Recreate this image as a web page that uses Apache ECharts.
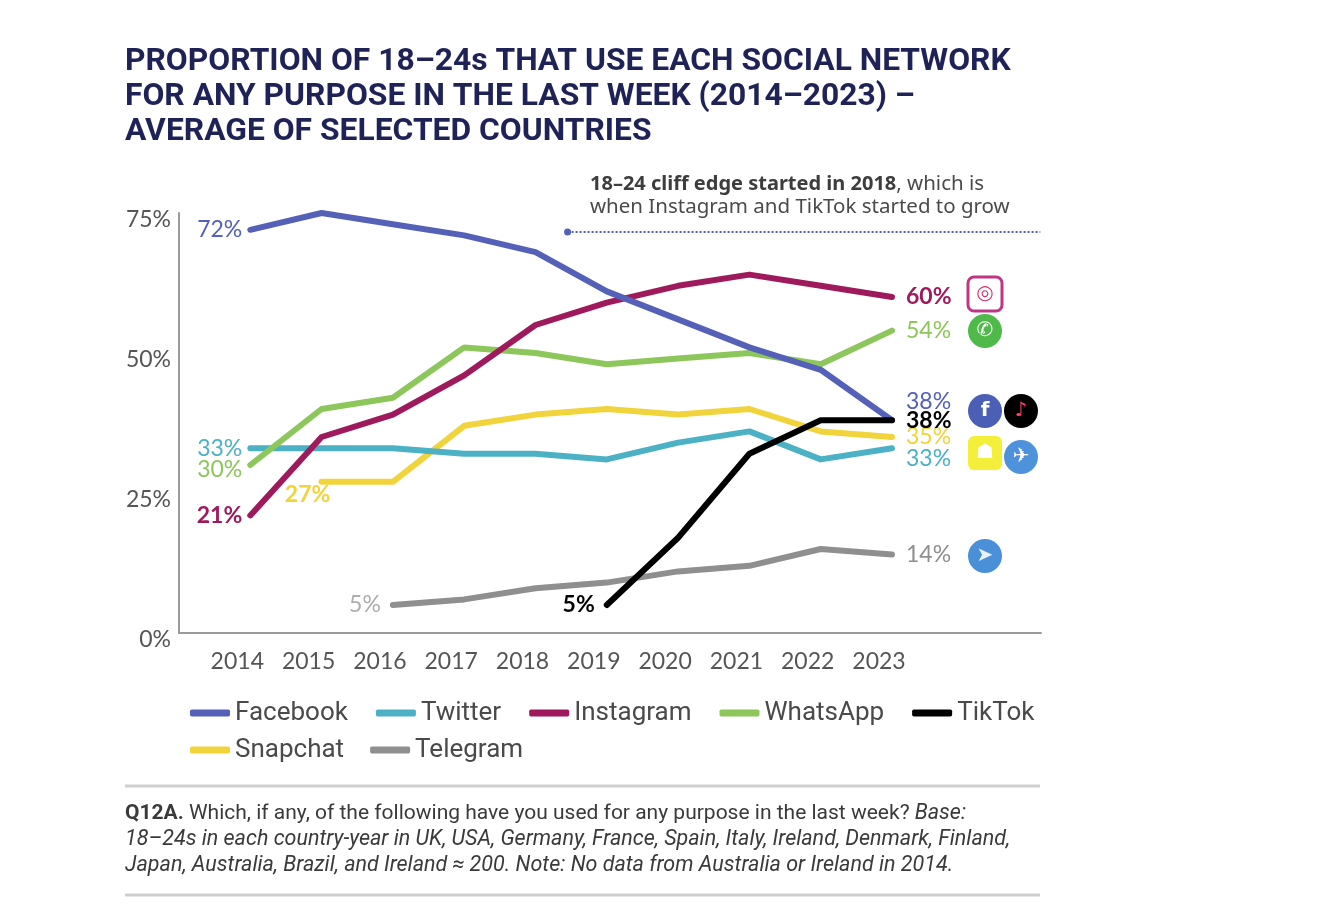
<!DOCTYPE html>
<html>
<head>
<meta charset="utf-8">
<script src="https://cdn.jsdelivr.net/npm/echarts@6/dist/echarts.min.js"></script>
<style>
  html, body { margin: 0; padding: 0; background: #fff; }
  #chart { width: 1327px; height: 920px; }
</style>
</head>
<body>
<div id="chart"></div>
<script>
// data
const years = [2014, 2015, 2016, 2017, 2018, 2019, 2020, 2021, 2022, 2023];
const facebook  = [72, 75, 73, 71, 68, 61, 56, 51, 47, 38];
const twitter   = [33, 33, 33, 32, 32, 31, 34, 36, 31, 33];
const instagram = [21, 35, 39, 46, 55, 59, 62, 64, 62, 60];
const whatsapp  = [30, 40, 42, 51, 50, 48, 49, 50, 48, 54];
const tiktok    = [null, null, null, null, null, 5, 17, 32, 38, 38];
const snapchat  = [null, 27, 27, 37, 39, 40, 39, 40, 36, 35];
const telegram  = [null, null, 5, 6, 8, 9, 11, 12, 15, 14];
const yTicks = [0, 25, 50, 75];

const colors = {
  Facebook: '#5560b8', Twitter: '#4cb1c4', Instagram: '#9e1a5c', WhatsApp: '#8dc65a',
  TikTok: '#000000', Snapchat: '#f1d33c', Telegram: '#8f8f8f'
};
const LBL_FONT = 'Lato';
const NARROW = 'Roboto, "Noto Sans", sans-serif';

// label for one point; rich padding nudges the text off the point
function pointLabel(val, color, opt) {
  return {
    show: true,
    position: opt.position || 'left',
    distance: opt.distance == null ? 8 : opt.distance,
    formatter: '{a|' + val + '%}',
    rich: {
      a: {
        fontFamily: LBL_FONT, fontSize: 23,
        fontWeight: opt.bold ? 'bold' : 'normal',
        color: opt.color || color,
        padding: opt.padding || [0, 0, 0, 0]
      }
    }
  };
}

// pair years with values, attach a label to first / last point
function mkData(vals, color, startLbl, endLbl) {
  const idx = vals.map((v, i) => v == null ? -1 : i).filter(i => i >= 0);
  const first = idx[0], last = idx[idx.length - 1];
  return years.map((y, i) => {
    if (vals[i] == null) return [y, null];
    const item = { value: [y, vals[i]] };
    if (i === first && startLbl) item.label = pointLabel(vals[i], color, startLbl);
    if (i === last && endLbl) item.label = pointLabel(vals[i], color, Object.assign({ position: 'right', distance: 14 }, endLbl));
    return item;
  });
}

function line(name, vals, startLbl, endLbl, z) {
  return {
    name: name,
    type: 'line',
    z: z,
    data: mkData(vals, colors[name], startLbl, endLbl),
    showSymbol: true,
    symbol: 'circle',
    symbolSize: 0,
    connectNulls: false,
    label: { show: false },
    lineStyle: { color: colors[name], width: 6, cap: 'round', join: 'round' },
    itemStyle: { color: colors[name] },
    emphasis: { disabled: true },
    labelLayout: { hideOverlap: false }
  };
}

const series = [
  line('Telegram', telegram, { distance: 12, color: '#adadad' }, {}, 2),
  line('Snapchat', snapchat, { position: 'bottom', distance: 1, bold: true, padding: [0, 28, 0, 0] }, {}, 3),
  line('Twitter', twitter, {}, { padding: [20, 0, 0, 0] }, 4),
  line('WhatsApp', whatsapp, { padding: [10, 0, 0, 0] }, {}, 5),
  line('Instagram', instagram, { bold: true }, { bold: true }, 6),
  line('Facebook', facebook, {}, { padding: [0, 0, 38, 0] }, 7),
  line('TikTok', tiktok, { distance: 12, bold: true }, { bold: true }, 8)
];

// dotted annotation line at the top (2018 onwards)
series[5].markLine = {
  silent: true,
  symbol: ['circle', 'none'],
  symbolSize: 7,
  label: { show: false },
  lineStyle: { color: '#5560b8', type: 'dotted', width: 2 },
  data: [[{ coord: [2018.45, 71.6] }, { coord: [2025.08, 71.6] }]]
};

const legendText = { fontFamily: NARROW, fontSize: 26, color: '#4a4a4a' };

function icon(cx, cy, shape, fill, ch, chColor) {
  const el = shape === 'circle'
    ? { type: 'circle', shape: { cx: cx, cy: cy, r: 17 }, style: { fill: fill } }
    : { type: 'rect', shape: { x: cx - 17, y: cy - 17, width: 34, height: 34, r: 6 }, style: fill };
  return [el, {
    type: 'text', x: cx, y: cy,
    style: { text: ch, fill: chColor, font: 'bold 20px DejaVu Sans', align: 'center', verticalAlign: 'middle' }
  }];
}

const icons = [].concat(
  icon(985, 294, 'rect', { fill: '#fff', stroke: '#c13584', lineWidth: 3 }, '◎', '#d6336c'),
  icon(985, 331, 'circle', '#4fb949', '✆', '#fff'),
  icon(985, 411, 'circle', '#4a5fb5', 'f', '#fff'),
  icon(1021, 411, 'circle', '#000', '♪', '#ff3d6e'),
  icon(985, 453, 'rect', { fill: '#f4ef3b' }, '☗', '#fff'),
  icon(1021, 457, 'circle', '#4e92dc', '✈', '#fff'),
  icon(985, 556, 'circle', '#4a90d9', '➤', '#e8f2fb')
);

const chart = echarts.init(document.getElementById('chart'), null, { renderer: 'canvas' });
chart.setOption({
  animation: false,
  backgroundColor: '#fff',
  grid: { left: 179, top: 213, width: 862, height: 420, containLabel: false },
  xAxis: {
    type: 'value',
    min: 2013,
    max: 2025.09,
    interval: 1,
    axisLine: { show: true, lineStyle: { color: '#9a9a9a', width: 2 } },
    axisTick: { show: false },
    splitLine: { show: false },
    axisLabel: {
      margin: 17,
      padding: [0, 26, 0, 0],
      fontFamily: LBL_FONT, fontSize: 23, color: '#555',
      showMaxLabel: false,
      formatter: v => (years.indexOf(v) >= 0 ? String(v) : '')
    }
  },
  yAxis: {
    type: 'value',
    min: yTicks[0],
    max: yTicks[yTicks.length - 1],
    interval: 25,
    axisLine: { show: true, lineStyle: { color: '#9a9a9a', width: 2 } },
    axisTick: { show: false },
    splitLine: { show: false },
    axisLabel: {
      margin: 8,
      fontFamily: LBL_FONT, fontSize: 23, color: '#555',
      formatter: v => '{a|' + v + '%}',
      rich: { a: { fontFamily: LBL_FONT, fontSize: 23, color: '#555', padding: [14, 0, 0, 0] } }
    }
  },
  legend: [
    {
      data: ['Facebook', 'Twitter', 'Instagram', 'WhatsApp', 'TikTok'],
      left: 185, top: 695, itemWidth: 40, itemHeight: 7, itemGap: 28,
      icon: 'roundRect', textStyle: legendText, selectedMode: false
    },
    {
      data: ['Snapchat', 'Telegram'],
      left: 185, top: 732, itemWidth: 40, itemHeight: 7, itemGap: 26,
      icon: 'roundRect', textStyle: legendText, selectedMode: false
    }
  ],
  graphic: [
    {
      type: 'text', left: 125, top: 45,
      style: {
        text: 'PROPORTION OF 18–24s THAT USE EACH SOCIAL NETWORK\nFOR ANY PURPOSE IN THE LAST WEEK (2014–2023) –\nAVERAGE OF SELECTED COUNTRIES',
        font: 'bold 31.8px Roboto, sans-serif',
        fill: '#1f2257', lineHeight: 35
      }
    },
    {
      type: 'text', left: 590, top: 174,
      style: {
        text: '{b|18–24 cliff edge started in 2018}{n|, which is}\n{n|when Instagram and TikTok started to grow}',
        rich: {
          b: { font: 'bold 20px "Noto Sans"', fill: '#3d3d3d', lineHeight: 23 },
          n: { font: '20.5px "Noto Sans"', fill: '#4a4a4a', lineHeight: 23 }
        }
      }
    },
    { type: 'line', shape: { x1: 125, y1: 786, x2: 1040, y2: 786 }, style: { stroke: '#cfcfcf', lineWidth: 3 } },
    { type: 'line', shape: { x1: 125, y1: 895, x2: 1040, y2: 895 }, style: { stroke: '#cfcfcf', lineWidth: 3 } },
    {
      type: 'text', left: 125, top: 803,
      style: {
        text: '{b|Q12A.}{n| Which, if any, of the following have you used for any purpose in the last week? }{i|Base:}\n' +
              '{i|18–24s in each country-year in UK, USA, Germany, France, Spain, Italy, Ireland, Denmark, Finland,}\n' +
              '{i|Japan, Australia, Brazil, and Ireland ≈ 200. Note: No data from Australia or Ireland in 2014.}',
        rich: {
          b: { font: 'bold 21px Roboto', fill: '#3a3a3a', lineHeight: 26 },
          n: { font: '21px Roboto', fill: '#3a3a3a', lineHeight: 26 },
          i: { font: 'italic 21.5px Roboto', fill: '#3a3a3a', lineHeight: 26 }
        }
      }
    }
  ].concat(icons),
  series: series
});
</script>
</body>
</html>
